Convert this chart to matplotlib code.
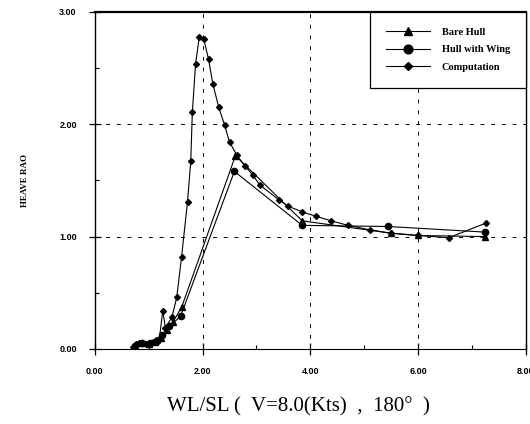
import matplotlib
matplotlib.use("Agg")
import matplotlib.pyplot as plt
from matplotlib.ticker import MultipleLocator, FormatStrFormatter

# heave RAO against wave length / ship length
comp_x = [0.70, 0.76, 0.82, 0.88, 0.95, 1.02, 1.08, 1.14, 1.20, 1.26, 1.31, 1.43,
          1.52, 1.61, 1.72, 1.78, 1.81, 1.87, 1.94, 2.02, 2.11, 2.19, 2.30, 2.41,
          2.50, 2.63, 2.78, 2.93, 3.06, 3.41, 3.59, 3.85, 4.11, 4.39, 4.70, 5.11,
          5.50, 6.00, 6.57, 7.26]
comp_y = [0.02, 0.04, 0.05, 0.05, 0.04, 0.05, 0.06, 0.08, 0.10, 0.34, 0.19, 0.28,
          0.46, 0.82, 1.31, 1.67, 2.11, 2.54, 2.78, 2.76, 2.58, 2.36, 2.15, 1.99,
          1.84, 1.73, 1.63, 1.55, 1.46, 1.33, 1.27, 1.22, 1.18, 1.14, 1.10, 1.06,
          1.03, 1.01, 0.99, 1.12]

bare_x = [0.72, 0.85, 1.00, 1.12, 1.22, 1.33, 1.45, 1.61, 2.61, 3.85, 5.50, 6.00, 7.24]
bare_y = [0.02, 0.05, 0.04, 0.06, 0.10, 0.17, 0.24, 0.37, 1.72, 1.14, 1.03, 1.01, 1.00]

wing_x = [0.74, 0.88, 1.03, 1.15, 1.25, 1.38, 1.59, 2.59, 3.85, 5.44, 7.24]
wing_y = [0.03, 0.05, 0.05, 0.07, 0.12, 0.20, 0.29, 1.58, 1.10, 1.09, 1.04]

fig = plt.figure(figsize=(5.3, 4.24), dpi=100)
ax = fig.add_axes([0.179, 0.177, 0.813, 0.795])

ax.plot(bare_x, bare_y, color="black", lw=0.8, marker="^", ms=4.5, label="Bare Hull")
ax.plot(wing_x, wing_y, color="black", lw=0.8, marker="o", ms=4.5, label="Hull with Wing")
ax.plot(comp_x, comp_y, color="black", lw=0.8, marker="D", ms=3, label="Computation")

ax.set_xlim(0, 8)
ax.set_ylim(0, 3)
ax.xaxis.set_major_locator(MultipleLocator(2))
ax.xaxis.set_minor_locator(MultipleLocator(1))
ax.yaxis.set_major_locator(MultipleLocator(1))
ax.yaxis.set_minor_locator(MultipleLocator(0.5))
ax.xaxis.set_major_formatter(FormatStrFormatter("%.2f"))
ax.yaxis.set_major_formatter(FormatStrFormatter("%.2f"))

ax.tick_params(which="major", direction="inout", length=8, width=0.9,
               labelsize=6.5, pad=9)
ax.tick_params(which="minor", direction="in", length=3, width=0.8)
for lab in ax.get_xticklabels() + ax.get_yticklabels():
    lab.set_fontweight("bold")
    lab.set_family("Liberation Sans")

ax.grid(True, which="major", color="black", linestyle=(0, (4, 7)), lw=0.7)

ax.spines["top"].set_linewidth(1.6)
ax.spines["left"].set_linewidth(1.0)
ax.spines["right"].set_linewidth(1.0)
ax.spines["bottom"].set_linewidth(0.8)

ax.set_ylabel("HEAVE RAO", family="Liberation Serif", fontweight="bold",
              fontsize=6.5, labelpad=22)
fig.text(298 / 530, 17 / 424, "WL/SL (  V=8.0(Kts)  ,  180\u00b0  )",
         family="Liberation Serif", fontsize=15, ha="center", va="center")

leg = ax.legend(loc="upper right", bbox_to_anchor=(1.0, 1.0), borderaxespad=0,
                fancybox=False, edgecolor="black", framealpha=1,
                prop={"family": "Liberation Serif", "weight": "bold", "size": 7.5},
                handlelength=4.3, handletextpad=1.1, labelspacing=0.8,
                borderpad=1.5, markerscale=1.4)
leg.get_frame().set_linewidth(0.9)

fig.savefig("out.png", dpi=100)
